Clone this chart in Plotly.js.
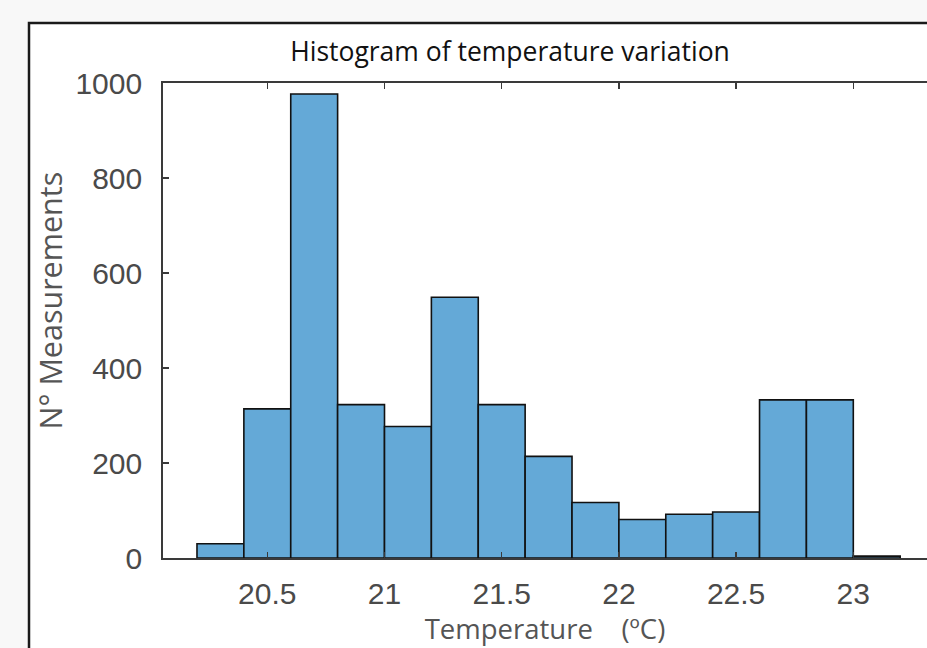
<!DOCTYPE html>
<html>
<head>
<meta charset="utf-8">
<script src="https://cdn.plot.ly/plotly-3.0.1.min.js"></script>
<style>html,body{margin:0;padding:0;background:#f8f8f8;}#chart{width:927px;height:648px;}</style>
</head>
<body>
<div id="chart"></div>
<script>
// Histogram data (bin width 0.2 °C)
const binStarts = [20.2, 20.4, 20.6, 20.8, 21.0, 21.2, 21.4, 21.6, 21.8, 22.0, 22.2, 22.4, 22.6, 22.8, 23.0];
const counts    = [30, 314, 977, 323, 277, 549, 323, 214, 117, 81, 92, 97, 333, 333, 4];
const binWidth = 0.2;
const xTickVals = [20.5, 21, 21.5, 22, 22.5, 23];
const xTickText = ['20.5', '21', '21.5', '22', '22.5', '23'];
const yTickVals = [0, 200, 400, 600, 800, 1000];
const yTickText = ['0', '200', '400', '600', '800', '1000'];

const W = 927, H = 648;
const mL = 163, mT = 83, mB = 90, mR = 0;
const pw = W - mL - mR, ph = H - mT - mB;
const px = v => (v - mL) / pw;
const py = v => (H - mB - v) / ph;

const trace = {
  type: 'bar',
  x: binStarts,
  y: counts,
  width: binStarts.map(() => binWidth),
  offset: 0,
  marker: {color: '#64a9d7', line: {color: '#111111', width: 1.6}},
  hoverinfo: 'x+y'
};

const axisCol = '#3a3a3a';
const tickFont = {family: 'Liberation Sans, Arial, sans-serif', size: 30, color: '#4a4a4a'};

const layout = {
  width: W, height: H,
  margin: {l: mL, r: mR, t: mT, b: mB, pad: 0},
  paper_bgcolor: '#f8f8f8',
  plot_bgcolor: '#ffffff',
  showlegend: false,
  bargap: 0,
  title: {
    text: 'Histogram of temperature variation',
    font: {family: 'Open Sans, sans-serif', size: 26.5, color: '#111111'},
    x: 510 / W, xref: 'container', xanchor: 'center',
    y: 1 - 52 / H, yref: 'container', yanchor: 'middle'
  },
  xaxis: {
    range: [20.5 - (267.3 - mL) / 234.4, 20.5 + (W - 267.3) / 234.4],
    tickvals: xTickVals, ticktext: xTickText,
    ticks: 'inside', ticklen: 6, tickwidth: 1.5, tickcolor: axisCol,
    showline: true, linecolor: axisCol, linewidth: 1.8, mirror: 'ticks',
    showgrid: false, zeroline: false,
    tickfont: tickFont, ticklabelstandoff: 8,
    title: {text: 'Temperature &nbsp;&nbsp;&nbsp;(ºC)', font: {family: 'Open Sans, sans-serif', size: 27.5, color: '#555555'}, standoff: 8}
  },
  yaxis: {
    range: [0, 1000],
    tickvals: yTickVals, ticktext: yTickText,
    ticks: 'inside', ticklen: 6, tickwidth: 1.5, tickcolor: axisCol,
    showline: true, linecolor: axisCol, linewidth: 1.8, mirror: false,
    showgrid: false, zeroline: false,
    tickfont: tickFont, ticklabelstandoff: 13,
    title: {text: '&nbsp;&nbsp;&nbsp;&nbsp;&nbsp;N° Measurements', font: {family: 'Open Sans, sans-serif', size: 30.5, color: '#555555'}, standoff: 4}
  },
  shapes: [
    {type: 'rect', xref: 'paper', yref: 'paper', layer: 'below',
     x0: px(29), x1: px(W + 60), y0: py(H + 60), y1: py(23),
     fillcolor: '#ffffff', line: {color: '#1a1a1a', width: 2.5}}
  ]
};

Plotly.newPlot('chart', [trace], layout, {displayModeBar: false, staticPlot: true});
</script>
</body>
</html>
